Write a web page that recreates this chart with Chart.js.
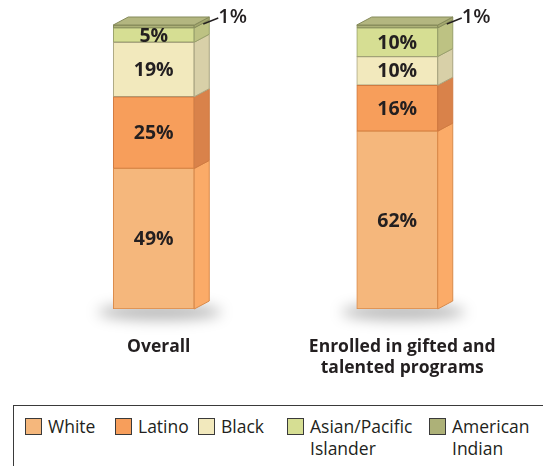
<!DOCTYPE html>
<html>
<head>
<meta charset="utf-8">
<script src="https://cdn.jsdelivr.net/npm/chart.js@4.4.1/dist/chart.umd.min.js"></script>
<style>
  body { margin: 0; background: #fff; font-family: 'Open Sans', sans-serif; overflow: hidden; }
  #wrap { position: relative; width: 543px; height: 466px; }
  #chart { position: absolute; left: 0; top: 0; }
  #legend {
    position: absolute; left: 13px; top: 405px; width: 540px; height: 70px;
    border: 1px solid #3a3a3a; box-sizing: border-box;
  }
  .item { position: absolute; top: 9px; font-size: 17.5px; line-height: 22px; color: #231f20; }
  .sw { position: absolute; top: 3px; width: 17px; height: 17px; box-sizing: border-box; border: 1.5px solid #3a3a3a; }
</style>
</head>
<body>
<div id="wrap">
  <canvas id="chart" width="543" height="400"></canvas>
  <div id="legend"></div>
</div>
<script>
// Datos
const categories = ['Overall', ['Enrolled in gifted and', 'talented programs']];
const seriesNames = ['White', 'Latino', 'Black', 'Asian/Pacific Islander', 'American Indian'];
const white = [49, 62];
const latino = [25, 16];
const black = [19, 10];
const asian = [5, 10];
const amIndian = [1, 1];

// Colores: frente, lado, borde
const fronts = ['#f5b77c', '#f79e5b', '#f2e9bd', '#d6de93', '#adb178'];
const sides = ['#fbab68', '#d9824a', '#d8d0a8', '#bdc283', '#a3a76e'];
const edges = ['#d98a4a', '#d07a40', '#a9a480', '#98a06a', '#858a5a'];
const legendLeft = [11, 101, 184, 273, 415];

const DX = 15, DY = 8;

const cube3d = {
  id: 'cube3d',
  beforeDatasetsDraw(chart) {
    const ctx = chart.ctx;
    const meta = chart.getDatasetMeta(0);
    meta.data.forEach(bar => {
      ctx.save();
      ctx.filter = 'blur(7px)';
      ctx.fillStyle = 'rgba(0,0,0,0.28)';
      ctx.beginPath();
      ctx.ellipse(bar.x + 6, bar.base + 3, 62, 8, 0, 0, Math.PI * 2);
      ctx.fill();
      ctx.restore();
    });
  },
  afterDatasetsDraw(chart) {
    const ctx = chart.ctx;
    const n = chart.data.datasets.length;
    chart.data.datasets.forEach((ds, di) => {
      chart.getDatasetMeta(di).data.forEach((bar, i) => {
        const r = bar.x + bar.width / 2, l = bar.x - bar.width / 2;
        ctx.save();
        ctx.lineWidth = 1;
        ctx.strokeStyle = edges[di];
        ctx.fillStyle = sides[di];
        ctx.beginPath();
        ctx.moveTo(r, bar.y);
        ctx.lineTo(r + DX, bar.y - DY);
        ctx.lineTo(r + DX, bar.base - DY);
        ctx.lineTo(r, bar.base);
        ctx.closePath();
        ctx.fill();
        ctx.stroke();
        if (di === n - 1) {
          ctx.fillStyle = '#b3b680';
          ctx.beginPath();
          ctx.moveTo(l, bar.y);
          ctx.lineTo(l + DX, bar.y - DY);
          ctx.lineTo(r + DX, bar.y - DY);
          ctx.lineTo(r, bar.y);
          ctx.closePath();
          ctx.fill();
          ctx.stroke();
        }
        ctx.restore();
      });
    });
    // etiquetas
    ctx.save();
    ctx.fillStyle = '#231f20';
    ctx.textBaseline = 'middle';
    chart.data.datasets.forEach((ds, di) => {
      chart.getDatasetMeta(di).data.forEach((bar, i) => {
        const v = ds.data[i];
        if (v > 1) {
          ctx.font = '700 19.5px "Open Sans"';
          ctx.textAlign = 'center';
          ctx.fillText(v + '%', bar.x, (bar.y + bar.base) / 2 + 1);
        } else {
          const r = bar.x + bar.width / 2;
          ctx.strokeStyle = '#231f20';
          ctx.lineWidth = 1.4;
          ctx.beginPath();
          ctx.moveTo(r + DX - 6, bar.y - 1);
          ctx.lineTo(r + DX + 9, bar.y - DY + 1);
          ctx.stroke();
          ctx.font = '600 20px "Open Sans"';
          ctx.textAlign = 'left';
          ctx.fillText(v + '%', r + DX + 9, bar.y - DY);
        }
      });
    });
    ctx.restore();
  }
};

const datasets = [white, latino, black, asian, amIndian].map((d, i) => ({
  label: seriesNames[i],
  data: d,
  backgroundColor: fronts[i],
  borderColor: edges[i],
  borderWidth: 1,
  borderSkipped: false,
  barThickness: 81
}));

new Chart(document.getElementById('chart'), {
  type: 'bar',
  data: { labels: categories, datasets: datasets },
  options: {
    responsive: false,
    animation: false,
    layout: { padding: { top: 25, left: 32, right: 24, bottom: 0 } },
    plugins: { legend: { display: false }, tooltip: { enabled: false } },
    scales: {
      x: {
        stacked: true,
        grid: { display: false, drawTicks: false },
        border: { display: false },
        ticks: {
          color: '#231f20',
          font: { family: 'Open Sans', size: 17.5, weight: '700', lineHeight: 1.22 },
          padding: 27,
          labelOffset: 5,
          maxRotation: 0
        },
        afterFit(scale) { scale.height = 91; }
      },
      y: { stacked: true, display: false, min: 0, max: 99 }
    }
  },
  plugins: [cube3d]
});

// Leyenda HTML
const legend = document.getElementById('legend');
seriesNames.forEach((name, i) => {
  const it = document.createElement('div');
  it.className = 'item';
  it.style.left = legendLeft[i] + 'px';
  const parts = name === 'Asian/Pacific Islander' ? ['Asian/Pacific', 'Islander'] :
                name === 'American Indian' ? ['American', 'Indian'] : [name];
  it.innerHTML = '<span class="sw" style="background:' + fronts[i] + '"></span>' +
    '<span style="display:block;margin-left:23px">' + parts.join('<br>') + '</span>';
  legend.appendChild(it);
});
</script>
</body>
</html>
